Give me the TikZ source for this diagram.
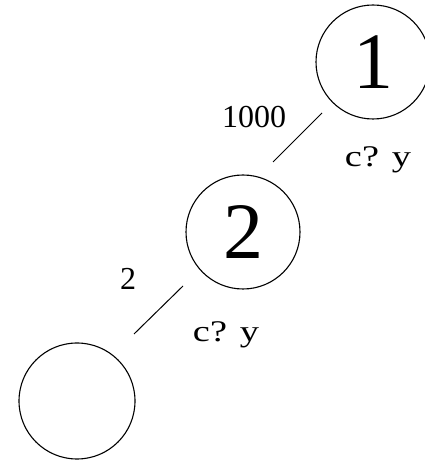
\documentclass[tikz,border=0pt]{standalone}
\usepackage{fontspec}
\setmainfont{Liberation Serif}
\begin{document}
\begin{tikzpicture}[x=1pt,y=1pt,
  vtx/.style={circle,draw,line width=1.1pt,minimum size=114pt,inner sep=0pt,font=\fontsize{80}{80}\selectfont},
  edge/.style={line width=1pt},
  lbl/.style={inner sep=0pt,font=\fontsize{32}{32}\selectfont},
  cy/.style={inner sep=0pt,font=\fontsize{30}{30}\selectfont}]
\useasboundingbox (0,0) rectangle (424,461);
\node[vtx] (n1) at (373,399) {1};
\node[vtx] (n2) at (243,229) {2};
\node[vtx,minimum size=116pt] (n3) at (77,60) {};
\draw[edge] ([shift={(-51,-51)}]n1.center) -- ([shift={(-100,-100)}]n1.center);
\draw[edge] ([shift={(-60,-54)}]n2.center) -- ([shift={(-109,-102)}]n2.center);
\node[lbl] (w1) at (254,344) {1000};
\node[lbl] (w2) at (128,182) {2};
\node[cy] (c1) at (378,301) {\scalebox{1.28}[1]{c? y}};
\node[cy] (c2) at (226,126) {\scalebox{1.28}[1]{c? y}};
\end{tikzpicture}
\end{document}
